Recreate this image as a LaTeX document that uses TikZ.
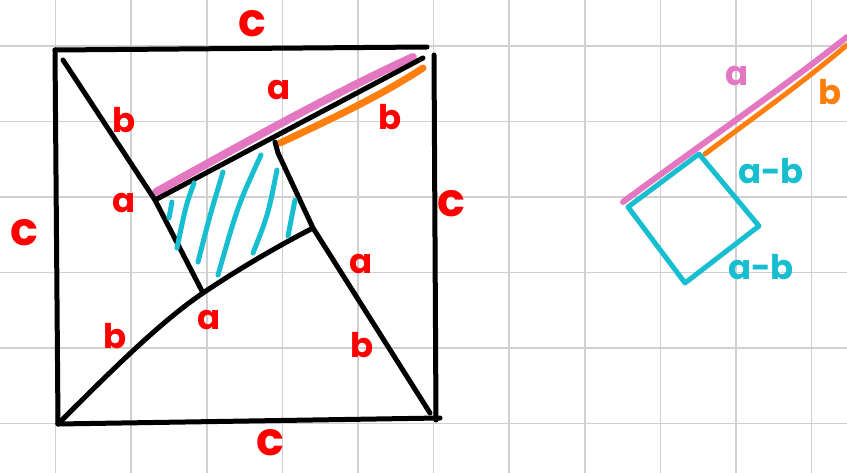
\documentclass[tikz,border=0pt]{standalone}
\usepackage{fontspec}
\setmainfont{Poppins}
\definecolor{lblred}{RGB}{255,0,0}
\definecolor{tpink}{RGB}{227,119,194}
\definecolor{torange}{RGB}{255,127,14}
\definecolor{tcyan}{RGB}{23,190,207}
\definecolor{gridgray}{RGB}{208,208,208}
\tikzset{
  gridline/.style={gridgray, line width=1.6pt},
  edge/.style={black, line width=5pt, line cap=round, line join=round},
  pinkhl/.style={tpink, line width=8pt, line cap=round},
  orangehl/.style={torange, line width=7pt, line cap=round},
  cyanline/.style={tcyan, line width=5pt, line cap=round, line join=round},
  lbl/.style={text=lblred, inner sep=0pt, font=\fontsize{34}{34}\selectfont\bfseries},
  clbl/.style={text=lblred, inner sep=0pt, font=\fontsize{46}{46}\selectfont\bfseries},
  cylbl/.style={text=tcyan, inner sep=0pt, font=\fontsize{34}{34}\selectfont\bfseries},
}
\begin{document}
\begin{tikzpicture}[x=1pt,y=-1pt]
\useasboundingbox (0,0) rectangle (847,473);
% grid
\foreach \k in {0,...,10} \draw[gridline] ({55.5+75.6*\k},0) -- ({55.5+75.6*\k},473);
\foreach \k in {0,...,5} \draw[gridline] (0,{46+75.5*\k}) -- (847,{46+75.5*\k});

% outer square corners
\coordinate (TL) at (55,50);
\coordinate (TR) at (427,47);
\coordinate (TRr) at (434,55);
\coordinate (BRr) at (436,420);
\coordinate (BL) at (58,424);
\coordinate (BR) at (440,418);
% inner points
\coordinate (A) at (63,60);
\coordinate (B) at (423,58);
\coordinate (P) at (155,200);
\coordinate (Q) at (275,142);
\coordinate (R) at (313,228);
\coordinate (S) at (203,293);
\coordinate (E) at (430,413);

% highlights
\draw[pinkhl] (156,192) .. controls (250,140) and (330,95) .. (413,57);
\draw[orangehl] (280,143) .. controls (340,115) and (385,93) .. (423,68);

% square
\draw[edge] (TL) -- (TR);
\draw[edge] (TRr) -- (BRr);
\draw[edge] (TL) -- (BL);
\draw[edge] (BL) -- (BR);
% inner lines
\draw[edge] (A) -- (P) -- (S);
\draw[edge] (B) -- (P);
\draw[edge] (Q) -- (278,153) -- (R) -- (E);
\draw[edge] (BL) .. controls (110,372) and (160,322) .. (S) .. controls (240,268) and (280,245) .. (R);

% hatches
\draw[cyanline] (172,202) -- (169,218);
\draw[cyanline] (194,183) .. controls (186,205) .. (177,248);
\draw[cyanline] (223,172) .. controls (210,215) .. (198,262);
\draw[cyanline] (261,155) .. controls (238,205) .. (218,275);
\draw[cyanline] (277,170) .. controls (268,215) .. (253,253);
\draw[cyanline] (295,200) -- (288,236);

% labels left figure
\node[clbl] (lc1) at (252,24) {c};
\node[clbl] (lc2) at (24,233) {c};
\node[clbl] (lc3) at (451,204) {c};
\node[clbl] (lc4) at (270,443) {c};
\node[lbl] (la1) at (279,90) {a};
\node[lbl] (lb1) at (390,117) {b};
\node[lbl] (lb2) at (124,120) {b};
\node[lbl] (la2) at (124,203) {a};
\node[lbl] (la3) at (361,264) {a};
\node[lbl] (la4) at (209,320) {a};
\node[lbl] (lb3) at (115,336) {b};
\node[lbl] (lb4) at (362,345) {b};

% right figure
\coordinate (P1) at (628,207);
\coordinate (P2) at (699,154);
\coordinate (P3) at (759,226);
\coordinate (P4) at (685,283);
\draw[pinkhl, line width=6pt] (623,202) .. controls (700,145) and (780,90) .. (847,37);
\draw[orangehl, line width=5pt] (705,154) .. controls (750,120) and (800,85) .. (847,45);
\draw[cyanline] (P1) -- (P2) -- (P3) -- (P4) -- cycle;
\node[lbl, text=tpink] (ra) at (737,76) {a};
\node[lbl, text=torange] (rb) at (830,92) {b};
\node[cylbl] (rab1) at (771,171) {a-b};
\node[cylbl] (rab2) at (761,267) {a-b};
\end{tikzpicture}
\end{document}
